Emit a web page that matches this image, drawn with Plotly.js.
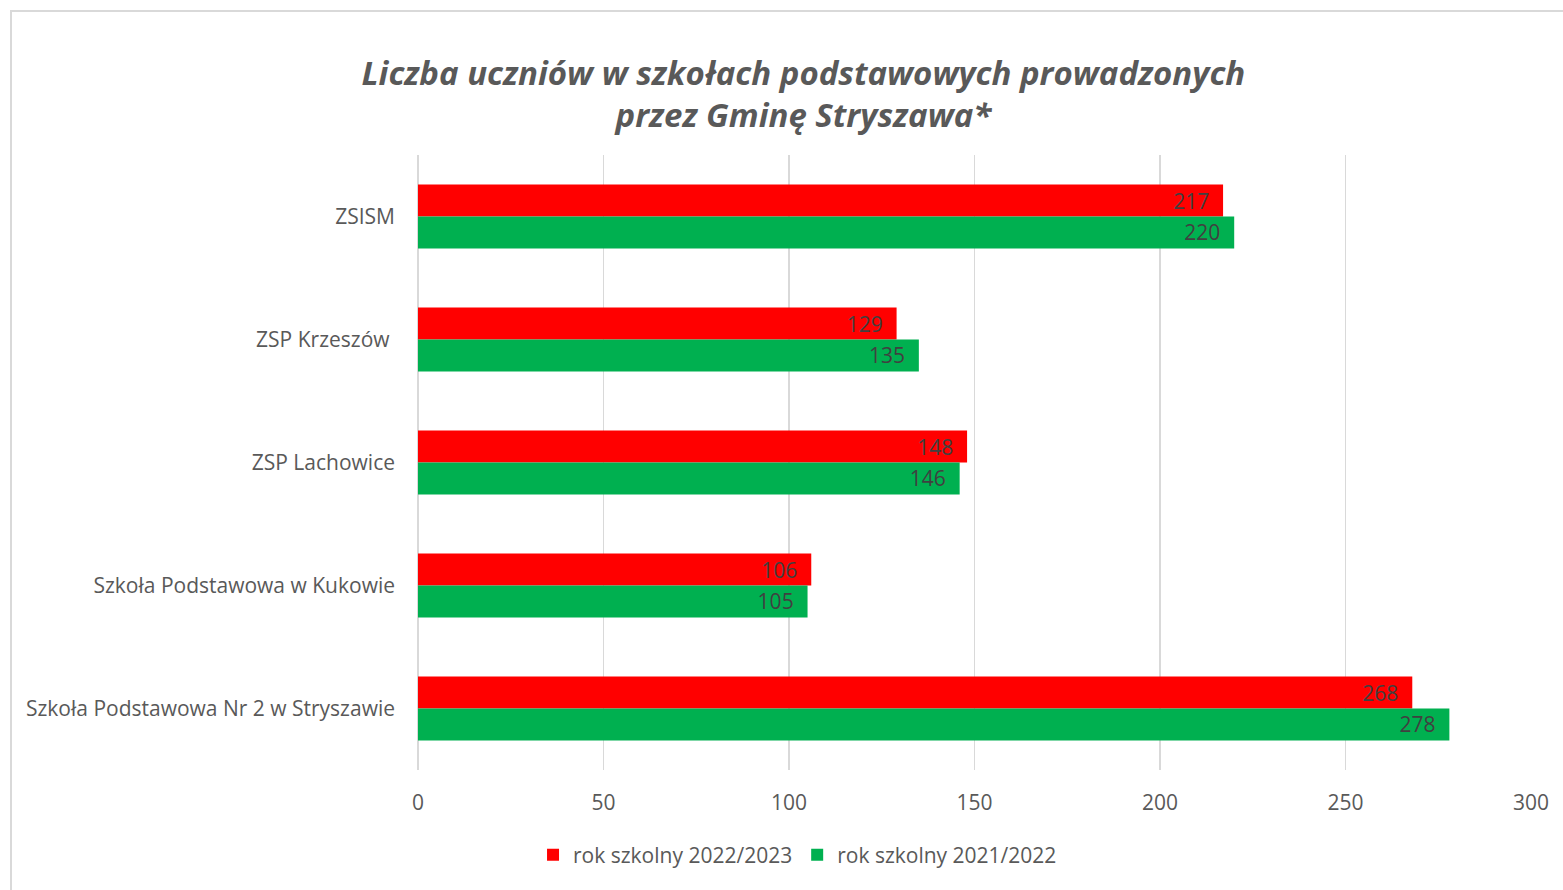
<!DOCTYPE html>
<html>
<head>
<meta charset="utf-8">
<script src="https://cdn.plot.ly/plotly-3.0.1.min.js"></script>
<style>
    body { margin: 0; background: #ffffff; overflow: hidden; }
    #ramka {
        position: absolute; left: 10px; top: 10px;
        width: 1600px; height: 900px;
        border: 2px solid #d9d9d9; pointer-events: none;
    }
    #grafico { position: absolute; left: 0; top: 0; width: 1563px; height: 890px; }
</style>
</head>
<body>
<div id="grafico"></div>
<div id="ramka"></div>
<script>
// Szkoły (od góry)
const szkoly = [
    "ZSISM",
    "ZSP Krzeszów ",
    "ZSP Lachowice",
    "Szkoła Podstawowa w Kukowie",
    "Szkoła Podstawowa Nr 2 w Stryszawie"
];
const rok2022 = [217, 129, 148, 106, 268];
const rok2021 = [220, 135, 146, 105, 278];
const nazwy = ["rok szkolny 2022/2023", "rok szkolny 2021/2022"];
const kolory = ["#ff0000", "#00b050"];

const fuente = "Open Sans, Lato, sans-serif";

function serie(valores, i) {
    return {
        type: "bar",
        orientation: "h",
        y: szkoly,
        x: valores,
        name: nazwy[i],
        marker: { color: kolory[i] },
        // odstęp od końca słupka
        text: valores.map(v => v + "\u00a0\u00a0"),
        textposition: "inside",
        insidetextanchor: "end",
        constraintext: "none",
        textfont: { family: fuente, size: 21, color: "#404040" },
        hoverinfo: "x+name"
    };
}

const trazas = [serie(rok2022, 0), serie(rok2021, 1)];

const layout = {
    width: 1563,
    height: 890,
    paper_bgcolor: "rgba(0,0,0,0)",
    plot_bgcolor: "#ffffff",
    font: { family: fuente, color: "#595959" },
    margin: { l: 418, r: 32, t: 155, b: 120 },
    title: {
        text: "<b><i>Liczba uczniów w szkołach podstawowych prowadzonych<br>przez Gminę Stryszawa*</i></b>",
        font: { family: fuente, size: 33, color: "#595959" },
        x: 0.514,
        xanchor: "center",
        y: 0.905,
        yanchor: "top"
    },
    barmode: "group",
    bargap: 0.48,
    bargroupgap: 0,
    xaxis: {
        range: [0, 300],
        dtick: 50,
        showgrid: true,
        gridcolor: "#d9d9d9",
        gridwidth: 1.5,
        zeroline: true,
        zerolinecolor: "#d9d9d9",
        zerolinewidth: 1.5,
        showline: false,
        ticks: "",
        ticklabelstandoff: 18,
        tickfont: { family: fuente, size: 21, color: "#595959" },
        fixedrange: true
    },
    yaxis: {
        autorange: "reversed",
        showgrid: false,
        zeroline: false,
        showline: false,
        ticks: "",
        ticklabelstandoff: 22,
        tickfont: { family: fuente, size: 21, color: "#595959" },
        fixedrange: true
    },
    legend: {
        orientation: "h",
        x: 0.341,
        xanchor: "center",
        y: -0.105,
        yanchor: "top",
        font: { family: fuente, size: 21, color: "#595959" },
        itemwidth: 30
    },
    showlegend: true
};

Plotly.newPlot("grafico", trazas, layout, { displayModeBar: false, staticPlot: true });
</script>
</body>
</html>
